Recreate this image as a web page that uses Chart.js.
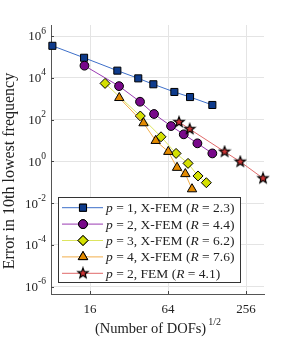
<!DOCTYPE html>
<html>
<head>
<meta charset="utf-8">
<script src="https://cdn.jsdelivr.net/npm/chart.js@4.4.0/dist/chart.umd.min.js"></script>
<style>
  html, body { margin: 0; padding: 0; background: #fff; }
  #wrap { width: 291px; height: 339px; }
</style>
</head>
<body>
<div id="wrap"><canvas id="c"></canvas></div>
<script>
// sqrt(DOFs) and error values
const xP1 = [8.2, 14.4, 26, 37.7, 49.3, 71.6, 94.6, 140.6];
const yP1 = [3.4e5, 9.1e4, 2.2e4, 9.4e3, 4.9e3, 2.1e3, 1.2e3, 500];
const xP2 = [14.5, 26.8, 38.9, 49.9, 67.5, 84.6, 107.8, 140.6];
const yP2 = [3.8e4, 4.0e3, 716, 185, 49, 19.7, 7.3, 2.4];
const xP3 = [20.9, 39.1, 56.5, 73.8, 91.3, 109, 126.4];
const yP3 = [5.4e3, 148, 15, 2.4, 0.8, 0.2, 0.095];
const xP4 = [26.9, 41.4, 51.4, 64.3, 75.1, 87, 98];
const yP4 = [1.1e3, 68, 9.7, 2.9, 0.5, 0.25, 0.047];
const xFem = [77.8, 94.1, 174.7, 231, 346];
const yFem = [76, 35, 2.9, 0.96, 0.154];

const xTicks = [16, 64, 256];
const yTickExp = [-6, -4, -2, 0, 2, 4, 6];

// legend pieces: [italic, normal, italic, normal]
const legendText = [
  ['p', ' = 1, X-FEM (', 'R', ' = 2.3)'],
  ['p', ' = 2, X-FEM (', 'R', ' = 4.4)'],
  ['p', ' = 3, X-FEM (', 'R', ' = 6.2)'],
  ['p', ' = 4, X-FEM (', 'R', ' = 7.6)'],
  ['p', ' = 2, FEM (', 'R', ' = 4.1)']
];

const SERIF = '"Liberation Serif", "DejaVu Serif", serif';

function pts(xs, ys) {
  return xs.map((x, i) => ({x: x, y: ys[i]}));
}

// filled five point star used as a marker
function makeStar(r) {
  const s = Math.ceil(r * 2 + 3);
  const cv = document.createElement('canvas');
  cv.width = s; cv.height = s;
  const g = cv.getContext('2d');
  g.beginPath();
  for (let i = 0; i < 10; i++) {
    const rr = i % 2 === 0 ? r : r * 0.42;
    const a = -Math.PI / 2 + i * Math.PI / 5;
    const px = s / 2 + rr * Math.cos(a), py = s / 2 + rr * Math.sin(a);
    if (i === 0) g.moveTo(px, py); else g.lineTo(px, py);
  }
  g.closePath();
  g.fillStyle = '#cf3535';
  g.fill();
  g.lineWidth = 1.2;
  g.strokeStyle = '#000';
  g.stroke();
  return cv;
}
const star = makeStar(5.4);

const datasets = [
  {data: pts(xP1, yP1), borderColor: '#3d6fc9', pointBackgroundColor: '#0e3b8c',
   pointStyle: 'rect', pointRadius: 5, order: 5},
  {data: pts(xP2, yP2), borderColor: '#9a3bb3', pointBackgroundColor: '#78088a',
   pointStyle: 'circle', pointRadius: 4.4, order: 4},
  {data: pts(xP3, yP3), borderColor: '#dde560', pointBackgroundColor: '#d4e000',
   pointStyle: 'rectRot', pointRadius: 5, order: 3},
  {data: pts(xP4, yP4), borderColor: '#f2ae4a', pointBackgroundColor: '#e38a00',
   pointStyle: 'triangle', pointRadius: 5.4, order: 2},
  {data: pts(xFem, yFem), borderColor: '#e06a6a', pointBackgroundColor: '#cf3535',
   pointStyle: star, pointRadius: 5, order: 1}
];
datasets.forEach(d => {
  d.borderWidth = 1;
  d.pointBorderColor = '#000';
  d.pointBorderWidth = 1;
  d.clip = false;
  d.tension = 0;
});

const extras = {
  id: 'extras',
  afterDraw(chart) {
    const ctx = chart.ctx;
    const xs = chart.scales.x, ys = chart.scales.y;
    const area = chart.chartArea;
    ctx.save();

    // small inward tick marks
    ctx.strokeStyle = '#444';
    ctx.lineWidth = 1;
    ctx.beginPath();
    xTicks.forEach(v => {
      const px = Math.round(xs.getPixelForValue(v)) + 0.5;
      ctx.moveTo(px, area.bottom);
      ctx.lineTo(px, area.bottom - 3);
    });
    yTickExp.forEach(e => {
      const py = Math.round(ys.getPixelForValue(Math.pow(10, e))) + 0.5;
      ctx.moveTo(area.left, py);
      ctx.lineTo(area.left + 3, py);
    });
    ctx.stroke();

    ctx.fillStyle = '#222';
    // y tick labels 10^e
    ctx.textBaseline = 'middle';
    yTickExp.forEach(e => {
      const py = ys.getPixelForValue(Math.pow(10, e));
      const ex = String(e);
      ctx.font = '9.5px ' + SERIF;
      const we = ctx.measureText(ex).width;
      ctx.textAlign = 'left';
      const right = area.left - 5;
      ctx.fillText(ex, right - we, py - 5);
      ctx.font = '13px ' + SERIF;
      ctx.textAlign = 'right';
      ctx.fillText('10', right - we, py + 1);
    });

    // x tick labels
    ctx.font = '13px ' + SERIF;
    ctx.textAlign = 'center';
    xTicks.forEach(v => {
      ctx.fillText(String(v), xs.getPixelForValue(v), 310);
    });

    // x title
    ctx.font = '14.5px ' + SERIF;
    const t1 = '(Number of DOFs)';
    const w1 = ctx.measureText(t1).width;
    ctx.font = '10px ' + SERIF;
    const w2 = ctx.measureText('1/2').width;
    const cx = 158;
    ctx.textAlign = 'left';
    ctx.font = '14.5px ' + SERIF;
    ctx.fillText(t1, cx - (w1 + w2 + 2) / 2, 329);
    ctx.font = '10px ' + SERIF;
    ctx.fillText('1/2', cx - (w1 + w2 + 2) / 2 + w1 + 2, 322);

    // y title
    ctx.save();
    ctx.translate(10, 171);
    ctx.rotate(-Math.PI / 2);
    ctx.font = '16px ' + SERIF;
    ctx.textAlign = 'center';
    ctx.fillText('Error in 10th lowest frequency', 0, 0);
    ctx.restore();

    // legend box
    const bx = 58.5, by = 197.5, bw = 182, bh = 85;
    ctx.fillStyle = '#fff';
    ctx.fillRect(bx, by, bw, bh);
    ctx.strokeStyle = '#333';
    ctx.lineWidth = 1;
    ctx.strokeRect(bx, by, bw, bh);
    datasets.forEach((d, i) => {
      const ry = 207.7 + i * 16.4;
      ctx.strokeStyle = d.borderColor;
      ctx.beginPath();
      ctx.moveTo(62, ry);
      ctx.lineTo(103, ry);
      ctx.stroke();
      ctx.fillStyle = d.pointBackgroundColor;
      ctx.strokeStyle = '#000';
      Chart.helpers.drawPoint(ctx, {pointStyle: d.pointStyle, radius: d.pointRadius, rotation: 0, borderWidth: 1}, 83, ry);
      ctx.fill();
      if (typeof d.pointStyle === 'string') ctx.stroke();
      let tx = 106;
      ctx.fillStyle = '#222';
      ctx.textAlign = 'left';
      legendText[i].forEach((seg, k) => {
        ctx.font = (k % 2 === 0 ? 'italic ' : '') + '13.5px ' + SERIF;
        ctx.fillText(seg, tx, ry + 1);
        tx += ctx.measureText(seg).width;
      });
    });
    ctx.restore();
  }
};

new Chart(document.getElementById('c'), {
  type: 'line',
  data: {datasets: datasets},
  options: {
    responsive: true,
    maintainAspectRatio: false,
    animation: false,
    events: [],
    layout: {padding: {left: 51, right: 27, top: 25, bottom: 45}},
    plugins: {legend: {display: false}, tooltip: {enabled: false}},
    scales: {
      x: {
        type: 'logarithmic', min: 8, max: 352,
        afterBuildTicks: s => { s.ticks = xTicks.map(v => ({value: v})); },
        ticks: {display: false},
        grid: {color: '#e4e4e4', drawTicks: false},
        border: {color: '#555', width: 1}
      },
      y: {
        type: 'logarithmic', min: 4.47e-7, max: 3.37e6,
        afterBuildTicks: s => { s.ticks = yTickExp.map(e => ({value: Math.pow(10, e)})); },
        ticks: {display: false},
        grid: {color: '#e4e4e4', drawTicks: false},
        border: {color: '#555', width: 1}
      }
    }
  },
  plugins: [extras]
});
</script>
</body>
</html>
